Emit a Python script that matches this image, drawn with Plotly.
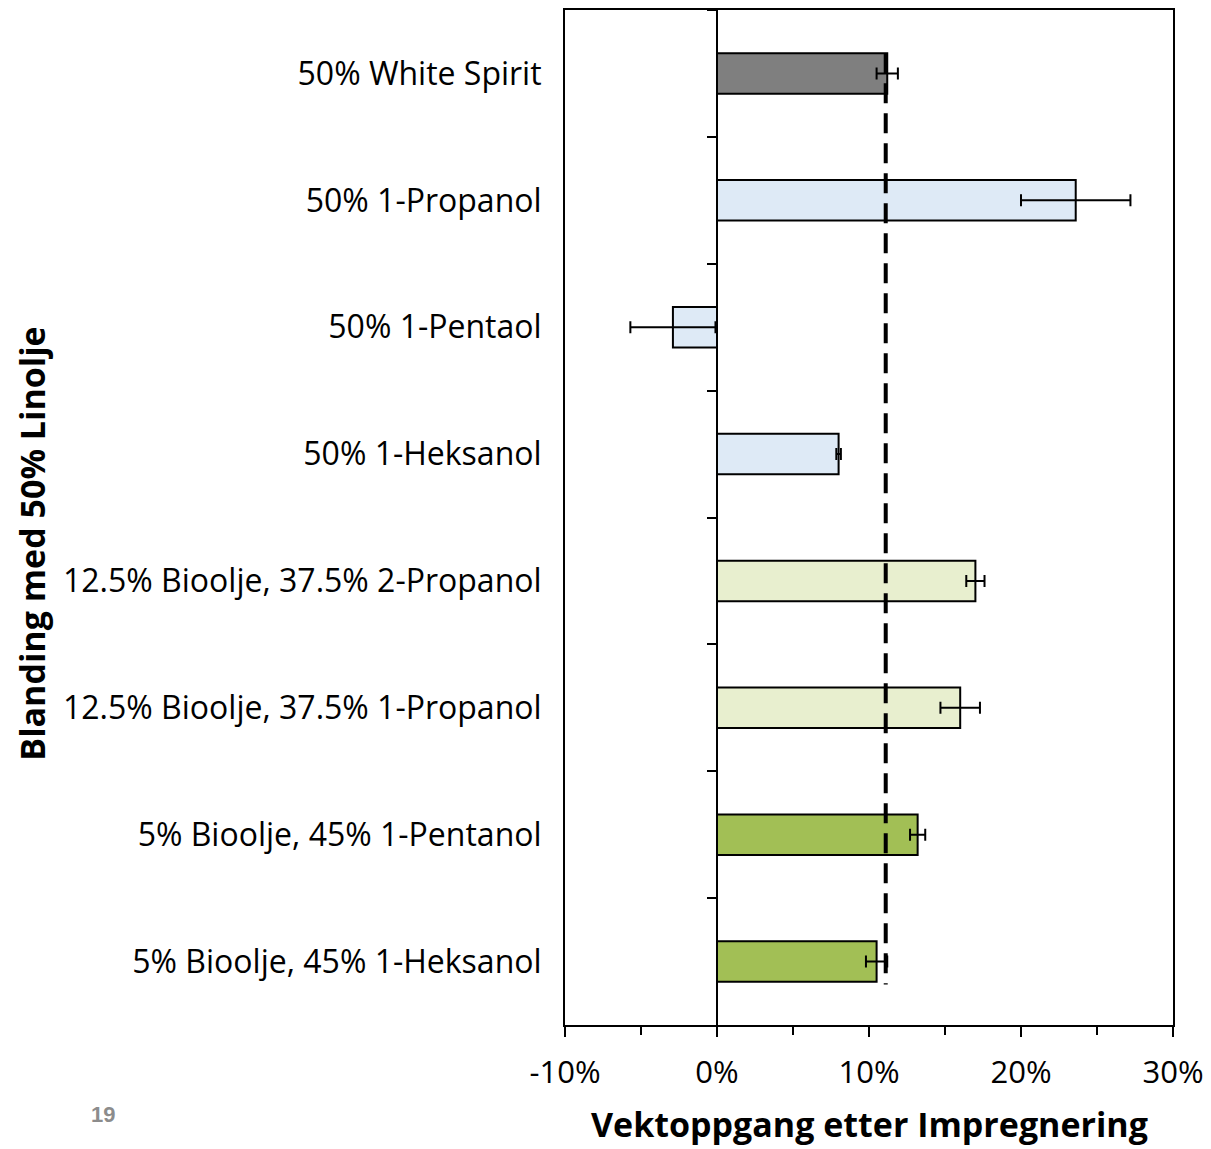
import plotly.graph_objects as go

categories = [
    "50% White Spirit",
    "50% 1-Propanol",
    "50% 1-Pentaol",
    "50% 1-Heksanol",
    "12.5% Bioolje, 37.5% 2-Propanol",
    "12.5% Bioolje, 37.5% 1-Propanol",
    "5% Bioolje, 45% 1-Pentanol",
    "5% Bioolje, 45% 1-Heksanol",
]
values = [11.2, 23.6, -2.9, 8.0, 17.0, 16.0, 13.2, 10.5]
errors = [0.7, 3.6, 2.8, 0.15, 0.6, 1.3, 0.5, 0.7]
colors = ["#7F7F7F", "#DEEAF6", "#DEEAF6", "#DEEAF6",
          "#E8EFCF", "#E8EFCF", "#A2BF55", "#A2BF55"]
reference_level = 11.1
x_ticks = [-10, 0, 10, 20, 30]
x_tick_labels = ["-10%", "0%", "10%", "20%", "30%"]

FONT = "'Open Sans', Lato, sans-serif"

fig = go.Figure()
fig.add_trace(go.Bar(
    x=values, y=categories, orientation="h",
    marker=dict(color=colors, line=dict(color="black", width=2)),
    width=0.32,
    error_x=dict(type="data", array=errors, visible=True,
                 color="black", thickness=2, width=6),
    showlegend=False, hoverinfo="skip",
))
# invisible helper trace to give the zero-axis its categories
fig.add_trace(go.Scatter(
    x=values, y=categories, yaxis="y2", mode="markers",
    marker=dict(opacity=0), showlegend=False, hoverinfo="skip",
))

n = len(categories)
fig.add_shape(type="line", xref="x", yref="y",
              x0=reference_level, x1=reference_level,
              y0=-0.16, y1=n - 1 + 0.18,
              line=dict(color="black", width=4, dash="20px,10px"))

fig.update_layout(
    width=1203, height=1141,
    margin=dict(l=557, r=38, t=0, b=124),
    plot_bgcolor="white", paper_bgcolor="white",
    font=dict(family=FONT, size=32, color="black"),
    xaxis=dict(
        range=[-10, 30], tickvals=x_ticks, ticktext=x_tick_labels,
        showline=True, mirror=True, linecolor="black", linewidth=2,
        ticks="outside", ticklen=10, tickwidth=2, tickcolor="black",
        minor=dict(dtick=5, ticks="outside", ticklen=8, tickwidth=2, tickcolor="black"),
        showgrid=False, zeroline=False,
        tickfont=dict(size=31), ticklabelstandoff=9,
    ),
    yaxis=dict(
        type="category", categoryorder="array", categoryarray=categories,
        range=[n - 0.5, -0.5], autorange=False,
        showline=True, mirror=True, linecolor="black", linewidth=2,
        ticks="", showgrid=False, zeroline=False,
        tickfont=dict(size=32), ticklabelstandoff=15,
    ),
    yaxis2=dict(
        type="category", categoryorder="array", categoryarray=categories,
        range=[n - 0.5, -0.5], autorange=False,
        overlaying="y", anchor="free", position=0.25, side="left",
        showline=True, linecolor="black", linewidth=2,
        ticks="outside", tickson="boundaries", ticklen=9, tickwidth=2, tickcolor="black",
        showticklabels=False, showgrid=False, zeroline=False,
    ),
    annotations=[
        dict(text="<b>Vektoppgang etter Impregnering</b>", xref="paper", yref="paper",
             x=0.5, y=-0.098, xanchor="center", yanchor="middle", showarrow=False,
             font=dict(size=34, family=FONT)),
        dict(text="<b>Blanding med 50% Linolje</b>", xref="paper", yref="paper",
             x=-0.877, y=0.474, xanchor="center", yanchor="middle", showarrow=False,
             textangle=-90, font=dict(size=34, family=FONT)),
        dict(text="<b>19</b>", xref="paper", yref="paper",
             x=-0.76, y=-0.0885, xanchor="center", yanchor="middle", showarrow=False,
             font=dict(size=22, family="Liberation Sans, Arial, sans-serif", color="#8C8C8C")),
    ],
)

fig.write_html("out.html")
